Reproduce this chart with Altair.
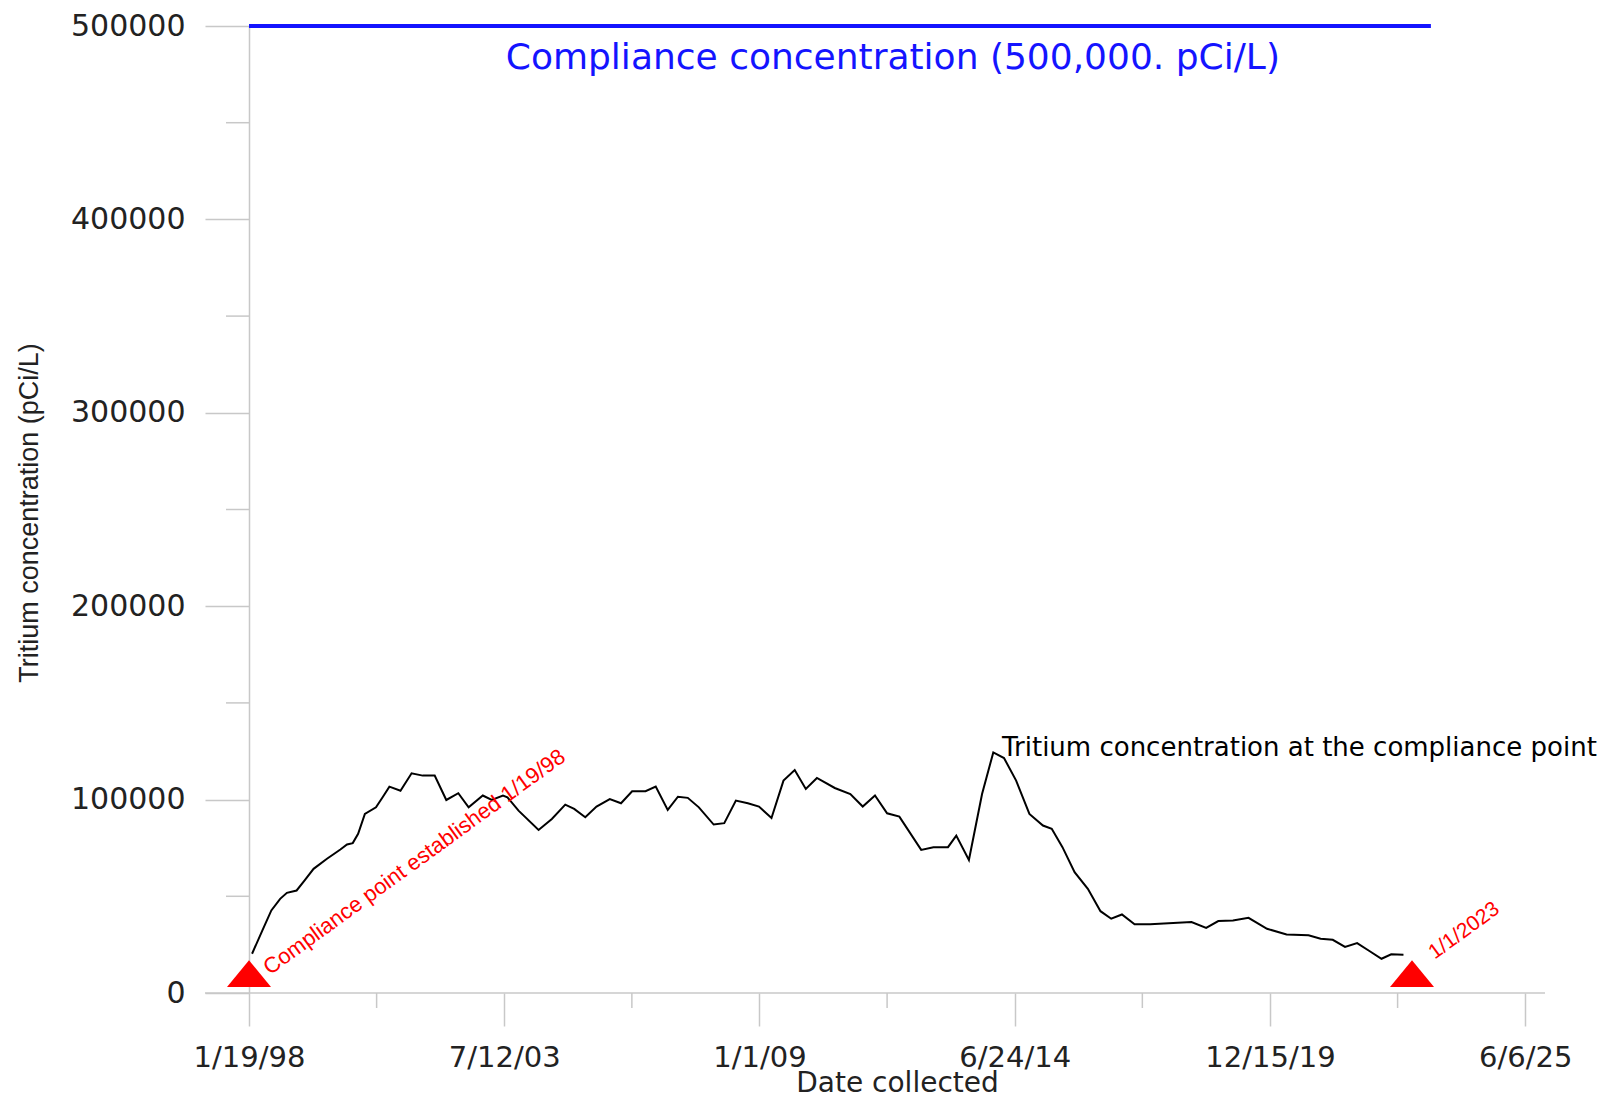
import altair as alt
import pandas as pd

# ---- data ----
dates = [
    "1998-02-12", "1998-05-04", "1998-07-13", "1998-09-20", "1998-11-12", "1999-01-27",
    "1999-03-31", "1999-06-09", "1999-09-22", "2000-01-05", "2000-02-26", "2000-04-11",
    "2000-05-23", "2000-07-15", "2000-10-10", "2000-12-01", "2001-01-23", "2001-04-20",
    "2001-07-16", "2001-10-11", "2002-01-13", "2002-04-14", "2002-07-17", "2002-10-06",
    "2003-01-25", "2003-04-05", "2003-07-02", "2003-08-06", "2003-11-01", "2004-04-06",
    "2004-07-19", "2004-11-01", "2005-01-10", "2005-04-07", "2005-07-04", "2005-10-16",
    "2006-01-12", "2006-04-09", "2006-07-23", "2006-10-11", "2007-01-13", "2007-04-03",
    "2007-06-19", "2007-09-14", "2008-01-08", "2008-03-31", "2008-06-30", "2008-10-02",
    "2008-12-28", "2009-04-05", "2009-07-08", "2009-10-04", "2009-12-30", "2010-03-27",
    "2010-08-14", "2010-12-14", "2011-03-21", "2011-06-25", "2011-09-28", "2012-01-02",
    "2012-06-21", "2012-09-25", "2013-01-17", "2013-03-23", "2013-06-30", "2013-10-11",
    "2014-01-07", "2014-04-01", "2014-07-05", "2014-10-17", "2015-01-31", "2015-04-10",
    "2015-07-03", "2015-10-06", "2016-01-18", "2016-04-26", "2016-07-19", "2016-10-11",
    "2017-01-18", "2017-05-20", "2018-04-09", "2018-08-02", "2018-11-05", "2019-02-28",
    "2019-06-30", "2019-11-22", "2020-04-23", "2020-10-12", "2021-01-15", "2021-04-20",
    "2021-07-25", "2021-10-28", "2022-02-01", "2022-05-07", "2022-07-22", "2022-10-26",
]
conc = [
    20300, 32400, 42700, 48700, 51800, 53000,
    58200, 64200, 69400, 74200, 76800, 77500,
    82300, 92600, 96000, 101200, 106700, 104600,
    113600, 112400, 112400, 99800, 103300, 96000,
    102100, 99800, 102100, 101200, 94300, 84300,
    90000, 97400, 95200, 90900, 96400, 100300,
    98100, 104300, 104300, 106700, 94700, 101500,
    100900, 96000, 87100, 87800, 99500, 98100,
    96400, 90500, 109800, 115300, 105500, 111200,
    106000, 102900, 96400, 102100, 92900, 91200,
    74000, 75400, 75400, 81400, 68800, 102900,
    124400, 121500, 109800, 92600, 86600, 84900,
    75400, 62500, 53900, 42300, 38400, 40600,
    35500, 35500, 36700, 33700, 37200, 37500,
    38900, 33200, 30300, 29800, 28100, 27500,
    23800, 25800, 21700, 17700, 20000, 19800,
]

x_domain = ["1998-01-19", "2025-11-08"]
major_x_ticks = ["1998-01-19", "2003-07-12", "2009-01-01", "2014-06-24", "2019-12-15", "2025-06-06"]
minor_x_ticks = ["2000-10-15", "2006-04-07", "2011-09-28", "2017-03-20", "2022-09-10"]
major_y_ticks = [0, 100000, 200000, 300000, 400000, 500000]
minor_y_ticks = [50000, 150000, 250000, 350000, 450000]

compliance_value = 500000
compliance_start = "1998-01-19"
compliance_end = "2023-05-29"
compliance_label = "Compliance concentration (500,000. pCi/L)"
compliance_label_pos = ("2011-11-12", 483500)

series_label = "Tritium concentration at the compliance point"
series_label_pos = ("2014-03-16", 126800)

marker_dates = ["1998-01-19", "2023-01-01"]
marker_values = [10000, 10000]
marker_texts = ["Compliance point established 1/19/98", "1/1/2023"]
marker_text_pos = [("1998-07-26", 7000), ("2023-07-16", 15500)]

W, H = 1296, 967
AXIS_GRAY = "#c8c8c8"


def ms(d):
    return int(pd.Timestamp(d, tz="UTC").value // 10**6)


x_scale = alt.Scale(type="utc", domain=[ms(d) for d in x_domain])
y_scale = alt.Scale(domain=[0, 500000], nice=False, zero=True)

line_df = pd.DataFrame({"date": dates, "value": conc})

x_axis = alt.Axis(
    values=[ms(d) for d in major_x_ticks],
    labelExpr="utcFormat(datum.value, '%-m/%-d/%y')",
    labelFlush=False, labelAlign="center",
    domain=False, grid=False,
    tickSize=33, tickColor=AXIS_GRAY, tickWidth=1.5,
    labelPadding=17, labelFont="DejaVu Sans", labelFontSize=29, labelColor="#222222",
    labelOverlap=False,
    title="Date collected", titleFont="DejaVu Sans", titleFontSize=28,
    titleFontWeight="normal", titleColor="#222222",
    titleY=98, titleBaseline="alphabetic",
)
y_axis = alt.Axis(
    values=major_y_ticks, format="d",
    domain=True, domainColor=AXIS_GRAY, domainWidth=1.5, grid=False,
    tickSize=44, tickColor=AXIS_GRAY, tickWidth=1.5,
    labelPadding=20, labelFont="DejaVu Sans", labelFontSize=30, labelColor="#222222",
    labelOverlap=False, labelFlush=False,
    title="Tritium concentration (pCi/L)", titleFont="Liberation Sans", titleFontSize=27,
    titleFontWeight="normal", titleColor="#222222",
    titleX=-220, titleY=H / 2 + 3, titleAngle=270, titleAlign="center", titleBaseline="middle",
)

line = alt.Chart(line_df).mark_line(color="black", strokeWidth=2).encode(
    x=alt.X("date:T", scale=x_scale, axis=x_axis),
    y=alt.Y("value:Q", scale=y_scale, axis=y_axis),
)

comp_df = pd.DataFrame({"date": [compliance_start], "date2": [compliance_end], "value": [compliance_value]})
comp_rule = alt.Chart(comp_df).mark_rule(color="#1414ff", strokeWidth=4).encode(
    x="date:T", x2="date2:T", y="value:Q"
)

comp_text_df = pd.DataFrame({"date": [compliance_label_pos[0]], "value": [compliance_label_pos[1]], "t": [compliance_label]})
comp_text = alt.Chart(comp_text_df).mark_text(
    font="DejaVu Sans", fontSize=36, color="#1414ff", align="center", baseline="middle"
).encode(x="date:T", y="value:Q", text="t:N")

series_text_df = pd.DataFrame({"date": [series_label_pos[0]], "value": [series_label_pos[1]], "t": [series_label]})
series_text = alt.Chart(series_text_df).mark_text(
    font="DejaVu Sans", fontSize=26, color="black", align="left", baseline="middle"
).encode(x="date:T", y="value:Q", text="t:N")

marker_df = pd.DataFrame({"date": marker_dates, "value": marker_values})
markers = alt.Chart(marker_df).mark_point(
    shape="M-1,0.61L1,0.61L0,-0.61Z", filled=True, size=1936, color="red", opacity=1, strokeWidth=0
).encode(x="date:T", y="value:Q")

mt_df = pd.DataFrame({
    "date": [p[0] for p in marker_text_pos],
    "value": [p[1] for p in marker_text_pos],
    "t": marker_texts,
    "fs": [22, 21],
})
marker_text = alt.Chart(mt_df).mark_text(
    font="Liberation Sans", color="red", align="left", baseline="bottom", angle=324
).encode(x="date:T", y="value:Q", text="t:N", size=alt.Size("fs:Q", scale=None, legend=None))

minor_x_df = pd.DataFrame({"date": minor_x_ticks})
minor_x = alt.Chart(minor_x_df).mark_rule(color=AXIS_GRAY, strokeWidth=1.5).encode(
    x="date:T", y=alt.value(H), y2=alt.value(H + 15)
)

minor_y_df = pd.DataFrame({"value": minor_y_ticks})
minor_y = alt.Chart(minor_y_df).mark_rule(color=AXIS_GRAY, strokeWidth=1.5).encode(
    y="value:Q", x=alt.value(-23), x2=alt.value(0)
)

x_axis_line = alt.Chart(minor_y_df.head(1)).mark_rule(color=AXIS_GRAY, strokeWidth=1.5).encode(
    x=alt.value(-44), x2=alt.value(W), y=alt.value(H)
)

chart = alt.layer(
    x_axis_line, minor_x, minor_y, line, comp_rule, comp_text, series_text, markers, marker_text
).properties(
    width=W, height=H,
    autosize=alt.AutoSizeParams(type="none"),
    padding={"left": 241, "top": 18, "right": 55, "bottom": 104},
).configure_view(stroke=None)

chart.save("out.html", embed_options={"renderer": "svg", "actions": False})
